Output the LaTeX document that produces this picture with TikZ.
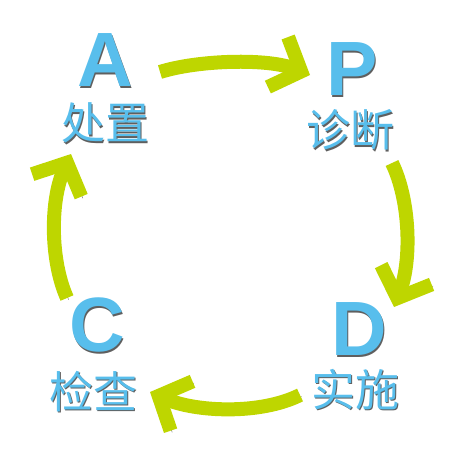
\documentclass[tikz,border=0pt]{standalone}
\usepackage{fontspec}
\usepackage{tikz}
\usetikzlibrary{arrows.meta}
\setmainfont{Liberation Sans}
\newfontfamily\cjk{Noto Sans CJK SC}

\definecolor{pdcablue}{RGB}{88,190,236}
\definecolor{pdcagreen}{RGB}{190,214,0}
\definecolor{pdcashade}{RGB}{95,95,95}

% text with a small grey drop shadow
\newcommand{\shadowed}[1]{\rlap{\textcolor{pdcashade}{\kern1.5pt\raisebox{-1.5pt}{#1}}}#1}

\begin{document}
\begin{tikzpicture}[x=1pt, y=-1pt,
		letter/.style={inner sep=0pt, text=pdcablue, font=\fontsize{77}{77}\selectfont\bfseries},
		word/.style={inner sep=0pt, text=pdcablue, font=\fontsize{44}{44}\selectfont\cjk},
		bigarrow/.style={line width=14pt, draw=pdcagreen, -{Straight Barb[length=25pt, width=54pt]},
			preaction={draw=pdcashade, transform canvas={shift={(1.6pt,-1.6pt)}}}}]
		\useasboundingbox (0,0) rectangle (462,451);
		% letters and words
		\node [letter] (A) at (105,61) {\shadowed{A}};
		\node [word] (act) at (105,124) {\shadowed{处置}};
		\node [letter] (P) at (352,70) {\shadowed{P}};
		\node [word] (plan) at (350,131) {\shadowed{诊断}};
		\node [letter] (D) at (359,330) {\shadowed{D}};
		\node [word] (do) at (355,390) {\shadowed{实施}};
		\node [letter] (C) at (97,326) {\shadowed{C}};
		\node [word] (check) at (93,392) {\shadowed{检查}};
		% arrow ends
		\coordinate (ap) at (160,72);
		\coordinate (pa) at (310,75);
		\coordinate (pd) at (392,163);
		\coordinate (dp) at (394,307);
		\coordinate (dc) at (300,395);
		\coordinate (cd) at (150,392);
		\coordinate (ca) at (67,298);
		\coordinate (ac) at (71,154);
		\draw [bigarrow] (ap) .. controls (198,60) and (268,58) .. (pa);
		\draw [bigarrow] (pd) .. controls (410,200) and (412,260) .. (dp);
		\draw [bigarrow] (dc) .. controls (260,415) and (195,412) .. (cd);
		\draw [bigarrow] (ca) .. controls (50,260) and (50,200) .. (ac);
	\end{tikzpicture}
\end{document}
